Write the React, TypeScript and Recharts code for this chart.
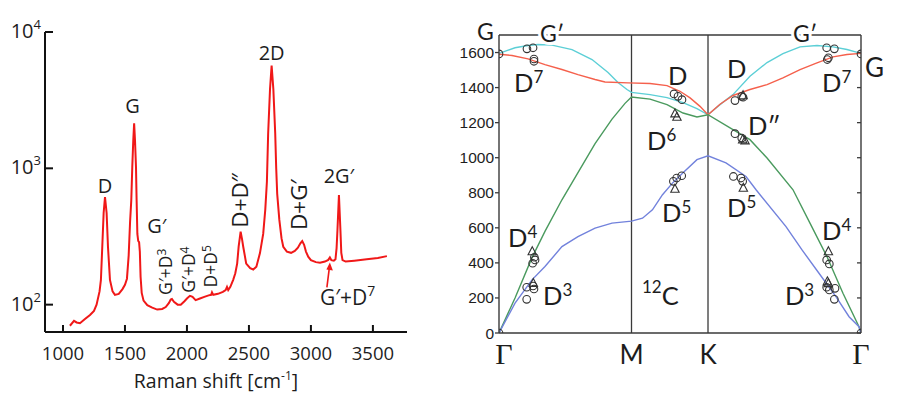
import React from 'react';
import { LineChart, ComposedChart, Line, Scatter, XAxis, YAxis, ReferenceLine, ReferenceDot } from 'recharts';

// ---------- Left panel: Raman spectrum (log intensity) ----------
const ramanShift = [
  1056, 1089, 1110, 1137, 1175, 1218, 1250, 1271, 1295, 1306,
  1317, 1328, 1339, 1352, 1363, 1379, 1400, 1419, 1450, 1480,
  1500, 1516, 1530, 1541, 1551, 1559, 1567, 1574, 1581, 1589,
  1594, 1600, 1607, 1614, 1620, 1626, 1635, 1650, 1680, 1720,
  1760, 1800, 1829, 1855, 1869, 1879, 1895, 1925, 1950, 1980,
  2000, 2024, 2045, 2070, 2105, 2140, 2175, 2195, 2202, 2212,
  2250, 2290, 2312, 2323, 2333, 2350, 2373, 2390, 2405, 2417,
  2433, 2445, 2454, 2478, 2510, 2535, 2560, 2589, 2615, 2632,
  2645, 2655, 2670, 2683, 2697, 2712, 2720, 2728, 2745, 2763,
  2777, 2806, 2840, 2870, 2895, 2915, 2930, 2945, 2960, 2978,
  3000, 3040, 3073, 3113, 3140, 3153, 3165, 3185, 3198, 3207,
  3214, 3226, 3238, 3245, 3255, 3280, 3350, 3450, 3540, 3613,
];
const intensity = [
  70, 76, 74, 73, 78, 84, 90, 100, 125, 152,
  266, 470, 615, 470, 266, 152, 125, 118, 120, 130,
  140, 155, 230, 400, 584, 1020, 1600, 2135, 1600, 1020,
  584, 330, 293, 287, 245, 160, 122, 107, 99, 95,
  92, 93, 96, 103, 109, 110, 105, 100, 100, 106,
  111, 116, 114, 108, 111, 114, 117, 118, 123, 118,
  120, 124, 128, 135, 128, 135, 152, 170, 200, 266,
  343, 300, 266, 200, 185, 181, 190, 239, 330, 500,
  800, 1800, 3800, 5680, 3800, 1800, 1000, 650, 420, 306,
  266, 245, 240, 248, 262, 282, 293, 275, 245, 225,
  212, 205, 203, 207, 213, 222, 212, 210, 215, 260,
  351, 636, 351, 240, 212, 207, 210, 215, 220, 227,
];
const ramanTicks = [1000, 1500, 2000, 2500, 3000, 3500];
const logTicks = [100, 1000, 10000];

// ---------- Right panel: phonon dispersion of graphene ----------
const Q_M = 1;
const Q_K = 1.5774;
const Q_G2 = 2.7321;
const qTicks = [0, Q_M, Q_K, Q_G2];
const qTickLabels = ['Γ', 'M', 'K', 'Γ'];
const freqTicks = [0, 200, 400, 600, 800, 1000, 1200, 1400, 1600];

const branchCyan: [number, number][] = [
  [0, 1595], [0.121, 1627], [0.219, 1640], [0.294, 1646], [0.4, 1642], [0.551, 1617], [0.702, 1560],
  [0.823, 1486], [0.898, 1429], [0.966, 1389], [1, 1373], [1.14, 1360], [1.268, 1343], [1.389, 1314],
  [1.494, 1280], [1.5774, 1245], [1.668, 1303], [1.766, 1360], [1.894, 1465], [2.023, 1543],
  [2.143, 1594], [2.272, 1632], [2.4, 1640], [2.521, 1632], [2.626, 1617], [2.7321, 1595],
];
const branchRed: [number, number][] = [
  [0, 1590], [0.098, 1583], [0.219, 1564], [0.347, 1531], [0.475, 1503], [0.596, 1474], [0.725, 1446],
  [0.8, 1432], [0.974, 1427], [1.14, 1423], [1.268, 1411], [1.366, 1379], [1.442, 1341], [1.517, 1293],
  [1.5774, 1245], [1.668, 1305], [1.766, 1355], [1.894, 1389], [2.023, 1417], [2.143, 1455],
  [2.272, 1503], [2.4, 1541], [2.521, 1575], [2.626, 1589], [2.7321, 1595],
];
const branchGreen: [number, number][] = [
  [0, 0], [0.121, 200], [0.249, 430], [0.347, 580], [0.475, 760], [0.596, 915], [0.725, 1080],
  [0.853, 1220], [0.951, 1310], [1, 1346], [1.14, 1334], [1.268, 1303], [1.389, 1255], [1.494, 1232],
  [1.5774, 1245], [1.766, 1160], [1.894, 1103], [2.023, 998], [2.219, 817], [2.347, 627],
  [2.475, 436], [2.596, 227], [2.717, 36], [2.7321, 0],
];
const branchBlue: [number, number][] = [
  [0, 0], [0.121, 170], [0.249, 303], [0.347, 379], [0.475, 493], [0.596, 550], [0.725, 598],
  [0.853, 627], [1, 638], [1.083, 655], [1.158, 703], [1.234, 789], [1.309, 855], [1.385, 912],
  [1.494, 989], [1.5774, 1011], [1.713, 970], [1.864, 893], [1.94, 817], [2.166, 607], [2.287, 474],
  [2.415, 341], [2.543, 207], [2.642, 93], [2.717, 36], [2.7321, 0],
];
const ringPoints: [number, number][] = [
  [0, 0], [0, 1592], [2.7321, 1592], [2.7321, 0],
  [0.211, 1621], [0.257, 1627], [0.264, 1563], [0.264, 1550],
  [1.321, 1364], [1.351, 1350], [1.381, 1331],
  [1.781, 1326], [1.832, 1350], [1.842, 1345],
  [1.781, 1137], [1.832, 1112],
  [2.473, 1627], [2.531, 1621], [2.478, 1560], [2.486, 1570],
  [1.316, 865], [1.341, 884], [1.379, 897],
  [1.769, 893], [1.826, 884], [1.839, 865],
  [0.267, 432], [0.254, 398], [0.272, 417],
  [0.209, 261], [0.264, 251], [0.209, 192], [0.257, 268],
  [2.473, 417], [2.493, 394],
  [2.473, 261], [2.493, 246], [2.536, 255], [2.531, 192],
];
const trianglePoints: [number, number][] = [
  [1.328, 1251], [1.343, 1232], [1.842, 1355], [1.839, 1103], [1.857, 1097],
  [1.328, 821], [1.844, 827], [0.251, 465], [0.259, 284], [2.486, 465], [2.478, 293], [2.486, 283],
];

const spectrum = ramanShift.map((v, i) => ({ v, I: intensity[i] }));
const toPts = (arr: [number, number][]) => arr.map(([q, f]) => ({ q, f }));

const OPEN = '"Open Sans", "Noto Sans", sans-serif';
const LATO = 'Lato, "Open Sans", sans-serif';
const ARIAL = '"Liberation Sans", Arial, sans-serif';
const SERIF = '"Liberation Serif", "DejaVu Serif", serif';
const INK = '#1d1d1d';
const FRAME = '#3a3a3a';

// ---- left ticks ----
const LogTick = (p: any) => {
  const { x, y, payload } = p;
  const exp = Math.round(Math.log10(payload.value));
  return (
    <g>
      <line x1={x} x2={x + 8} y1={y} y2={y} stroke="#111" strokeWidth={2} />
      <text x={x - 4} y={y + 6} textAnchor="end" fontFamily={OPEN} fontSize={20} fill={INK}>
        10<tspan dy={-9} fontSize={13}>{exp}</tspan>
      </text>
    </g>
  );
};
const RamanTick = (p: any) => {
  const { x, y, payload } = p;
  return (
    <g>
      <line x1={x} x2={x} y1={y} y2={y - 7} stroke="#111" strokeWidth={2} />
      <text x={x} y={y + 28} textAnchor="middle" fontFamily={OPEN} fontSize={18.5} fill={INK}>
        {payload.value}
      </text>
    </g>
  );
};

// ---- right ticks ----
const FreqTick = (p: any) => {
  const { x, y, payload } = p;
  return (
    <g>
      <line x1={x - 4} x2={x} y1={y} y2={y} stroke={FRAME} strokeWidth={1.3} />
      <text x={x - 5} y={y + 5.5} textAnchor="end" fontFamily={ARIAL} fontSize={15.5} fill={INK}>
        {payload.value}
      </text>
    </g>
  );
};
const RightTick = (p: any) => {
  const { x, y } = p;
  return <line x1={x - 4} x2={x} y1={y} y2={y} stroke={FRAME} strokeWidth={1.3} />;
};
const QTick = (p: any) => {
  const { x, y, payload, index } = p;
  const idx = qTicks.indexOf(payload.value);
  const i = idx >= 0 ? idx : index;
  const lab = qTickLabels[i];
  const isGamma = lab === 'Γ';
  const shift = i === 0 ? 5 : 0;
  return (
    <text x={x + shift} y={y + 31} textAnchor="middle" fontFamily={isGamma ? SERIF : LATO}
      fontSize={isGamma ? 30 : 26} fill={INK}>
      {lab}
    </text>
  );
};

const Ring = (p: any) => <circle cx={p.cx} cy={p.cy} r={3.8} fill="none" stroke="#333" strokeWidth={1.1} />;
const Tri = (p: any) => (
  <path d={`M${p.cx},${p.cy - 4.8} L${p.cx + 4.2},${p.cy + 3.2} L${p.cx - 4.2},${p.cy + 3.2} Z`}
    fill="none" stroke="#333" strokeWidth={1.1} />
);

// annotation helper: text anchored to a data position
const note = (key: string, x: number, y: number, render: (cx: number, cy: number) => React.ReactElement, yAxisId?: string) => (
  <ReferenceDot key={key} x={x} y={y} r={0} ifOverflow="visible" yAxisId={yAxisId as any}
    fill="none" stroke="none" shape={(p: any) => render(p.cx, p.cy)} />
);

const upright = (txt: React.ReactNode, dx: number, dy: number, size = 20, anchor: any = 'middle') =>
  (cx: number, cy: number) => (
    <text x={cx + dx} y={cy + dy} textAnchor={anchor} fontFamily={OPEN} fontSize={size} fill={INK}>{txt}</text>
  );
const rotated = (txt: React.ReactNode, dx: number, dy: number, size = 17.5) =>
  (cx: number, cy: number) => {
    const X = cx + dx, Y = cy + dy;
    return (
      <text x={X} y={Y} transform={`rotate(-90 ${X} ${Y})`} textAnchor="start" fontFamily={OPEN}
        fontSize={size} fill={INK}>{txt}</text>
    );
  };

function RamanChart() {
  return (
    <LineChart width={430} height={398} data={spectrum} margin={{ top: 32, right: 23, bottom: 16, left: 0 }}>
      <XAxis dataKey="v" type="number" domain={[855, 3775]} ticks={ramanTicks} allowDataOverflow interval={0}
        height={50} tickSize={0} tickMargin={0} tickLine={false} tick={RamanTick}
        axisLine={{ stroke: '#111', strokeWidth: 2 }} />
      <YAxis type="number" scale="log" domain={[63, 10000]} ticks={logTicks} allowDataOverflow interval={0}
        width={45} tickSize={0} tickMargin={0} tickLine={false} tick={LogTick}
        axisLine={{ stroke: '#111', strokeWidth: 2 }} />
      <Line dataKey="I" type="linear" stroke="#f01818" strokeWidth={2} dot={false} isAnimationActive={false} />
      {note('lD', 1339, 615, upright('D', 0, -4))}
      {note('lG', 1574, 2135, upright('G', -1.5, -10))}
      {note('l2D', 2683, 5680, upright('2D', 0, -5))}
      {note('l2G', 3226, 636, upright('2G′', 0, -12))}
      {note('lGp', 1607, 293, upright('G′', 9, -8, 20, 'start'))}
      {note('lGD3', 1879, 110, rotated(<>G′+D<tspan dy={-6} fontSize={12}>3</tspan></>, 0, -4))}
      {note('lGD4', 2024, 116, rotated(<>G′+D<tspan dy={-6} fontSize={12}>4</tspan></>, 5, -3))}
      {note('lDD5', 2202, 123, rotated(<>D+D<tspan dy={-6} fontSize={12}>5</tspan></>, 5, -5))}
      {note('lDDpp', 2433, 343, rotated('D+D″', 7, -4, 22.5))}
      {note('lDG', 2930, 293, rotated('D+G′', 5, -11, 22.5))}
      {note('lGD7', 3153, 222, (cx, cy) => (
        <g>
          <line x1={cx - 3} y1={cy + 30} x2={cx - 0.6} y2={cy + 11} stroke="#f01818" strokeWidth={1.6} />
          <path d={`M${cx},${cy + 5} L${cx + 3},${cy + 13} L${cx - 3.5},${cy + 12} Z`} fill="#f01818" />
          <text x={cx - 10} y={cy + 48} fontFamily={OPEN} fontSize={21} fill={INK}>
            G′+D<tspan dy={-9} fontSize={14}>7</tspan>
          </text>
        </g>
      ))}
    </LineChart>
  );
}

const dLabel = (base: string, sup: string, size = 25.5) => (cx: number, cy: number) => (
  <text x={cx} y={cy} fontFamily={LATO} fontSize={size} fill={INK}>
    {base}{sup ? <tspan dy={-9} fontSize={17}>{sup}</tspan> : null}
  </text>
);
const gLabel = (txt: string) => (cx: number, cy: number) => (
  <text x={cx} y={cy} fontFamily={LATO} fontSize={23} fill={INK} stroke="#fff" strokeWidth={6}
    paintOrder="stroke" strokeLinejoin="round">{txt}</text>
);

function DispersionChart() {
  return (
    <ComposedChart width={483} height={398} margin={{ top: 35, right: 0, bottom: 0, left: 0 }}>
      <XAxis dataKey="q" type="number" domain={[0, Q_G2]} ticks={qTicks} allowDataOverflow interval={0}
        height={65} tickSize={0} tickMargin={0} tickLine={false} tick={QTick}
        axisLine={{ stroke: FRAME, strokeWidth: 1.4 }} />
      <YAxis yAxisId="l" dataKey="f" type="number" domain={[0, 1700]} ticks={freqTicks} allowDataOverflow
        interval={0} width={69} tickSize={0} tickMargin={0} tickLine={false} tick={FreqTick}
        axisLine={{ stroke: FRAME, strokeWidth: 1.4 }} />
      <YAxis yAxisId="r" orientation="right" type="number" domain={[0, 1700]} ticks={freqTicks} allowDataOverflow
        interval={0} width={52} tickSize={0} tickMargin={0} tickLine={false} tick={RightTick}
        axisLine={{ stroke: FRAME, strokeWidth: 1.4 }} />
      <ReferenceLine yAxisId="l" y={1700} stroke={FRAME} strokeWidth={1.4} />
      <ReferenceLine yAxisId="l" x={Q_M} stroke={FRAME} strokeWidth={1.3} />
      <ReferenceLine yAxisId="l" x={Q_K} stroke={FRAME} strokeWidth={1.3} />
      <Line yAxisId="l" data={toPts(branchCyan)} dataKey="f" type="linear" stroke="#5ccfd6" strokeWidth={1.4}
        dot={false} isAnimationActive={false} />
      <Line yAxisId="l" data={toPts(branchRed)} dataKey="f" type="linear" stroke="#f5604c" strokeWidth={1.4}
        dot={false} isAnimationActive={false} />
      <Line yAxisId="l" data={toPts(branchGreen)} dataKey="f" type="linear" stroke="#4a9a5e" strokeWidth={1.4}
        dot={false} isAnimationActive={false} />
      <Line yAxisId="l" data={toPts(branchBlue)} dataKey="f" type="linear" stroke="#7282dc" strokeWidth={1.4}
        dot={false} isAnimationActive={false} />
      <Scatter yAxisId="l" data={toPts(ringPoints)} dataKey="f" shape={Ring} isAnimationActive={false} />
      <Scatter yAxisId="l" data={toPts(trianglePoints)} dataKey="f" shape={Tri} isAnimationActive={false} />
      {note('rG1', -0.166, 1671, gLabel('G'), 'l')}
      {note('rGp1', 0.309, 1660, gLabel('G′'), 'l')}
      {note('rGp2', 2.219, 1660, gLabel('G′'), 'l')}
      {note('rG2', 2.762, 1460, dLabel('G', '', 26), 'l')}
      {note('rD7a', 0.113, 1375, dLabel('D', '7'), 'l')}
      {note('rD7b', 2.438, 1375, dLabel('D', '7'), 'l')}
      {note('rDa', 1.275, 1415, dLabel('D', ''), 'l')}
      {note('rDb', 1.721, 1455, dLabel('D', ''), 'l')}
      {note('rD6', 1.117, 1044, dLabel('D', '6'), 'l')}
      {note('rDpp', 1.879, 1130, dLabel('D″', ''), 'l')}
      {note('rD5a', 1.23, 633, dLabel('D', '5'), 'l')}
      {note('rD5b', 1.721, 662, dLabel('D', '5'), 'l')}
      {note('rD4a', 0.068, 491, dLabel('D', '4'), 'l')}
      {note('rD4b', 2.438, 531, dLabel('D', '4'), 'l')}
      {note('rD3a', 0.332, 160, dLabel('D', '3'), 'l')}
      {note('rD3b', 2.158, 160, dLabel('D', '3'), 'l')}
      {note('rC', 1.079, 160, (cx, cy) => (
        <text x={cx} y={cy} fontFamily={LATO} fontSize={25.5} fill={INK}>
          <tspan dy={-12} fontSize={17}>12</tspan><tspan dy={12}>C</tspan>
        </text>
      ), 'l')}
    </ComposedChart>
  );
}

export default function App() {
  return (
    <div style={{ position: 'absolute', left: 0, top: 0, width: 913, height: 398, background: '#fff', overflow: 'hidden' }}>
      <div style={{ position: 'absolute', left: 0, top: 0 }}>
        <RamanChart />
      </div>
      <div style={{ position: 'absolute', left: 430, top: 0 }}>
        <DispersionChart />
      </div>
      <svg width={913} height={398} style={{ position: 'absolute', left: 0, top: 0, pointerEvents: 'none' }}>
        <text x={216} y={388} textAnchor="middle" fontFamily={OPEN} fontSize={19.5} fill={INK}>
          Raman shift [cm<tspan dy={-8} fontSize={12}>-1</tspan><tspan dy={8}>]</tspan>
        </text>
      </svg>
    </div>
  );
}
